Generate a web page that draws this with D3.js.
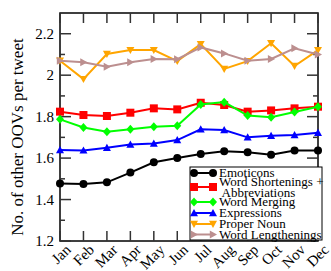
<!DOCTYPE html>
<html>
<head>
<meta charset="utf-8">
<script src="https://cdn.jsdelivr.net/npm/d3@7"></script>
<style>
  body { margin: 0; background: #fff; }
  text { font-family: "Liberation Serif", "Times New Roman", serif; }
</style>
</head>
<body>
<div id="chart"></div>
<script>
const months = ["Jan", "Feb", "Mar", "Apr", "May", "Jun", "Jul", "Aug", "Sep", "Oct", "Nov", "Dec"];
const emoticons = [1.478, 1.475, 1.483, 1.53, 1.58, 1.60, 1.62, 1.633, 1.628, 1.616, 1.637, 1.637];
const shortenings = [1.824, 1.808, 1.803, 1.819, 1.84, 1.835, 1.867, 1.856, 1.824, 1.83, 1.84, 1.848];
const merging = [1.787, 1.748, 1.727, 1.739, 1.751, 1.756, 1.859, 1.87, 1.805, 1.797, 1.822, 1.848];
const expressions = [1.639, 1.637, 1.65, 1.665, 1.67, 1.687, 1.739, 1.735, 1.70, 1.708, 1.711, 1.722];
const properNoun = [2.07, 1.981, 2.102, 2.121, 2.121, 2.068, 2.15, 2.03, 2.068, 2.154, 2.044, 2.121];
const lengthenings = [2.07, 2.062, 2.041, 2.062, 2.078, 2.077, 2.134, 2.105, 2.07, 2.078, 2.13, 2.10];
const yTicks = [1.2, 1.4, 1.6, 1.8, 2.0, 2.2];
const yMinor = [1.3, 1.5, 1.7, 1.9, 2.1];

const series = [
  { name: ["Emoticons"], values: emoticons, color: "#000000", marker: "circle" },
  { name: ["Word Shortenings +", " Abbreviations"], values: shortenings, color: "#ff0000", marker: "square" },
  { name: ["Word Merging"], values: merging, color: "#00ff00", marker: "diamond" },
  { name: ["Expressions"], values: expressions, color: "#0000ff", marker: "up" },
  { name: ["Proper Noun"], values: properNoun, color: "#ffa500", marker: "down" },
  { name: ["Word Lengthenings"], values: lengthenings, color: "#bc8f8f", marker: "right" }
];

const width = 331, height = 271;
const margin = { top: 13, right: 13, bottom: 30, left: 60 };
const iw = width - margin.left - margin.right;
const ih = height - margin.top - margin.bottom;

const svg = d3.select("#chart").append("svg").attr("width", width).attr("height", height);
const g = svg.append("g").attr("transform", `translate(${margin.left},${margin.top})`);

const x = d3.scalePoint().domain(months).range([0, iw]);
const y = d3.scaleLinear().domain([1.2, 2.3]).range([ih, 0]);

// frame
g.append("rect").attr("width", iw).attr("height", ih)
  .attr("fill", "none").attr("stroke", "#000").attr("stroke-width", 1.5);

// ticks, drawn inward like the original
const tickG = g.append("g").attr("stroke", "#333").attr("stroke-width", 1.5);
months.forEach(m => {
  tickG.append("line").attr("x1", x(m)).attr("x2", x(m)).attr("y1", ih).attr("y2", ih - 10);
  tickG.append("line").attr("x1", x(m)).attr("x2", x(m)).attr("y1", 0).attr("y2", 10);
});
yTicks.forEach(v => {
  tickG.append("line").attr("x1", 0).attr("x2", 11).attr("y1", y(v)).attr("y2", y(v));
  tickG.append("line").attr("x1", iw).attr("x2", iw - 11).attr("y1", y(v)).attr("y2", y(v));
});
yMinor.forEach(v => {
  tickG.append("line").attr("x1", 0).attr("x2", 5).attr("y1", y(v)).attr("y2", y(v));
  tickG.append("line").attr("x1", iw).attr("x2", iw - 5).attr("y1", y(v)).attr("y2", y(v));
});

// tick labels
g.selectAll(".ylab").data(yTicks).enter().append("text")
  .attr("x", -6).attr("y", d => y(d)).attr("dy", "0.35em")
  .attr("text-anchor", "end").attr("font-size", 15)
  .text(d => d === 2 ? "2" : d3.format(".1f")(d));

g.selectAll(".xlab").data(months).enter().append("text")
  .attr("transform", d => `translate(${x(d) + 8},${ih + 6}) rotate(-45)`)
  .attr("text-anchor", "end").attr("dy", "0.35em").attr("font-size", 15)
  .text(d => d);

svg.append("text")
  .attr("transform", `translate(23,${margin.top + 124}) rotate(-90)`)
  .attr("text-anchor", "middle").attr("font-size", 17)
  .text("No. of other OOVs per tweet");

function markerPath(type) {
  const s = 4;
  switch (type) {
    case "square": return `M${-s},${-s}H${s}V${s}H${-s}Z`;
    case "diamond": return `M0,${-s - 0.5}L${s},0L0,${s + 0.5}L${-s},0Z`;
    case "up": return `M0,${-s}L${s},${s * 0.8}L${-s},${s * 0.8}Z`;
    case "down": return `M0,${s}L${s},${-s * 0.8}L${-s},${-s * 0.8}Z`;
    case "right": return `M${s},0L${-s * 0.8},${s}L${-s * 0.8},${-s}Z`;
  }
}
function drawMarker(sel, type, color, cx, cy) {
  if (type === "circle") {
    sel.append("circle").attr("cx", cx).attr("cy", cy).attr("r", 4).attr("fill", color);
  } else {
    sel.append("path").attr("d", markerPath(type)).attr("transform", `translate(${cx},${cy})`).attr("fill", color);
  }
}

const line = d3.line().x((d, i) => x(months[i])).y(d => y(d));

series.forEach(s => {
  const sg = g.append("g");
  sg.append("path").datum(s.values).attr("d", line)
    .attr("fill", "none").attr("stroke", s.color).attr("stroke-width", 2);
  s.values.forEach((v, i) => drawMarker(sg, s.marker, s.color, x(months[i]), y(v)));
});

// legend
const lg = svg.append("g").attr("transform", "translate(190,167)");
lg.append("rect").attr("width", 132).attr("height", 73)
  .attr("fill", "#fff").attr("stroke", "#000").attr("stroke-width", 1);
// row y: marker line, text lines
const rows = [[6, [5.5]], [20, [14.7, 25.7]], [35, [34.7]], [46, [45.7]], [57, [56.5]], [67.5, [67.3]]];
series.forEach((s, k) => {
  const row = lg.append("g");
  const my = rows[k][0];
  row.append("line").attr("x1", 4).attr("x2", 23).attr("y1", my).attr("y2", my)
    .attr("stroke", s.color).attr("stroke-width", 2);
  drawMarker(row, s.marker, s.color, 4, my);
  drawMarker(row, s.marker, s.color, 23, my);
  s.name.forEach((t, j) => {
    row.append("text").attr("x", 29).attr("y", rows[k][1][j]).attr("dy", "0.35em")
      .attr("font-size", 13).style("white-space", "pre").text(t);
  });
});
</script>
</body>
</html>
